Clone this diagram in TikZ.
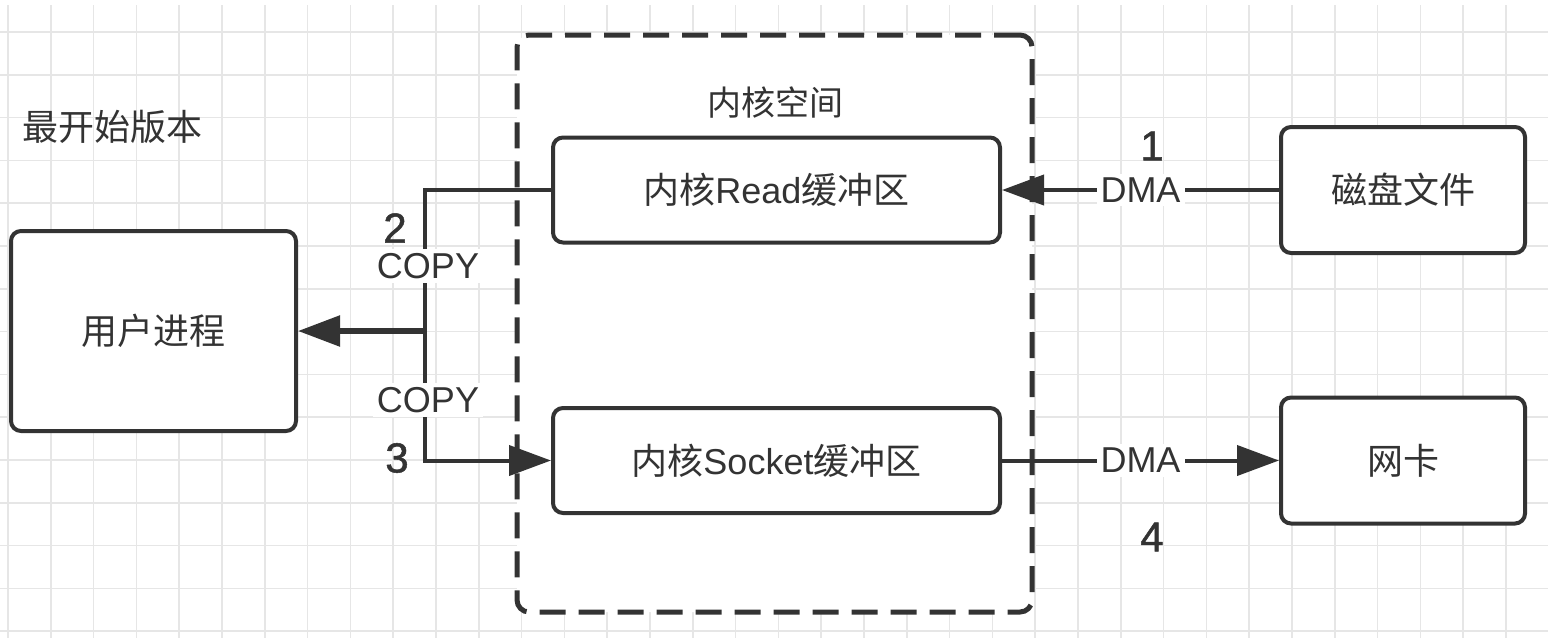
\documentclass[tikz,border=0pt]{standalone}
\usepackage{fontspec}
\setmainfont{Liberation Sans}
\newfontfamily\cjk{Noto Sans CJK SC}
\newfontfamily\numfont[FakeBold=1.2]{Liberation Sans}
\usetikzlibrary{arrows.meta}
\definecolor{ink}{HTML}{333333}
\definecolor{gridc}{HTML}{E6E6E6}
\begin{document}
\begin{tikzpicture}[x=1pt,y=-1pt,
  box/.style={draw=ink, line width=4pt, rounded corners=10pt, fill=white, text=ink,
              font=\fontsize{36}{40}\selectfont, inner sep=0pt},
  conn/.style={draw=ink, line width=4pt},
  tip/.style={-{Triangle[length=42pt,width=30pt]}},
  lab/.style={fill=white, text=ink, font=\fontsize{36}{40}\selectfont, inner sep=4pt},
  num/.style={text=ink, font=\fontsize{42}{44}\numfont, inner sep=0pt},
  plain/.style={text=ink, inner sep=0pt}]
\useasboundingbox (0,0) rectangle (1548,638);
\fill[white] (0,0) rectangle (1548,638);
% grid
\foreach \i in {0,...,36} \draw[gridc, line width=1.5pt] ({8+42.8*\i},5) -- ({8+42.8*\i},638);
\foreach \j in {0,...,14} \draw[gridc, line width=1.5pt] (0,{32+42.8*\j}) -- (1548,{32+42.8*\j});
% kernel space container
\node[draw=ink, line width=5pt, dash pattern=on 26pt off 13pt, rounded corners=12pt, fill=white,
      minimum width=515pt, minimum height=577pt, inner sep=0pt] (kernel) at (774.5,323.5) {};
\node[plain, font=\fontsize{34}{38}\selectfont] (kt) at (775,103) {\cjk 内核空间};
% title
\node[plain, anchor=west, font=\fontsize{36}{40}\selectfont] (title) at (22,127) {\cjk 最开始版本};
% boxes
\node[box, minimum width=285pt, minimum height=200pt] (user) at (153.5,331) {\cjk 用户进程};
\node[box, minimum width=447pt, minimum height=105pt] (read) at (776.5,190) {{\cjk 内核}Read{\cjk 缓冲区}};
\node[box, minimum width=447pt, minimum height=105pt] (socket) at (776.5,460.5) {{\cjk 内核}Socket{\cjk 缓冲区}};
\node[box, minimum width=244pt, minimum height=126pt] (disk) at (1403,190) {\cjk 磁盘文件};
\node[box, minimum width=244pt, minimum height=126pt] (nic) at (1403,460.5) {\cjk 网卡};
% connector 1
\draw[conn, tip] (disk.west) -- (read.east) node[lab, pos=0.5] (dma1) {DMA};
\node[num] (n1) at (1152,146) {1};
% connector 2
\coordinate (j) at (425,331);
\draw[conn] (read.west) -| (j);
\draw[conn, tip, line width=5.5pt] (j) -- (user.east);
\node[lab] (copy2) at (428,266) {COPY};
\node[num] (n2) at (395,228) {2};
% connector 3
\draw[conn, tip] (j) |- (socket.west);
\node[lab] (copy3) at (428,400) {COPY};
\node[num] (n3) at (397,458) {3};
% connector 4
\draw[conn, tip] (socket.east) -- (nic.west) node[lab, pos=0.5] (dma4) {DMA};
\node[num] (n4) at (1152,537) {4};
\end{tikzpicture}
\end{document}
